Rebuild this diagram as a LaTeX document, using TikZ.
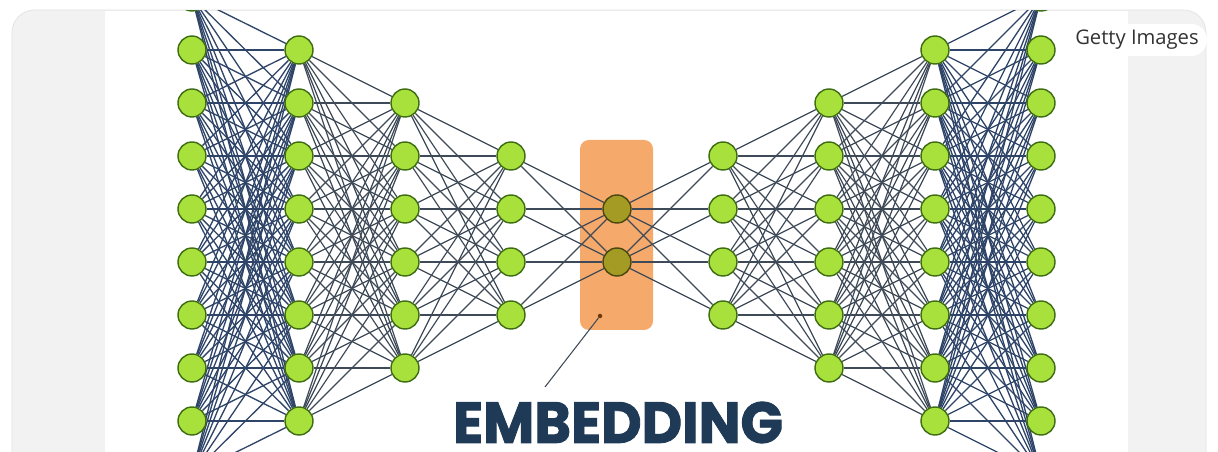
\documentclass[tikz,border=0pt]{standalone}
\usepackage{fontspec}
\setmainfont{Open Sans}
\newfontfamily\headfont[BoldFeatures={FakeBold=1.6}]{Poppins}
\usepackage{tikz}
\usetikzlibrary{calc}
\definecolor{leaf}{HTML}{A8E03C}
\definecolor{leafrim}{HTML}{3E6C12}
\definecolor{embfill}{HTML}{A39B24}
\definecolor{embrim}{HTML}{4A4710}
\definecolor{boxfill}{HTML}{F5A96B}
\definecolor{navy}{HTML}{1F3A56}
\definecolor{panel}{HTML}{F2F2F2}
\definecolor{panelrim}{HTML}{E3E3E3}
\definecolor{wiredense}{HTML}{2E4468}
\definecolor{wirethin}{HTML}{3F4A58}
\tikzstyle{neuron} = [circle, draw=leafrim, line width=0.8pt, fill=leaf, minimum size=0.56cm, inner sep=0pt]
\tikzstyle{embneuron} = [circle, draw=embrim, line width=0.8pt, fill=embfill, minimum size=0.56cm, inner sep=0pt]
\tikzstyle{wireA} = [draw=wiredense, line width=0.75pt]
\tikzstyle{wireB} = [draw=wirethin, line width=0.7pt]
\tikzstyle{pill} = [rectangle, rounded corners=0.32cm, fill=white, minimum height=0.64cm, minimum width=2.8cm, text=black!80, font=\fontsize{11.5}{13}\selectfont]
\pgfdeclarelayer{back}
\pgfdeclarelayer{wires}
\pgfsetlayers{back,wires,main}
\begin{document}
\begin{tikzpicture}[x=0.02cm, y=-0.02cm]

        \useasboundingbox (0,0) rectangle (1218,452);

        \begin{pgfonlayer}{back}
            \fill [white] (0,0) rectangle (1218,452);
            \draw [panelrim, fill=panel, rounded corners=0.45cm] (12,10) rectangle (1206,520);
            \fill [white] (105,11) rectangle (1128,452);
            \fill [boxfill, rounded corners=0.18cm] (580,140) rectangle (653,330);
        \end{pgfonlayer}

        % layers: number / size / x
        \begin{scope}
            \clip (105,11) rectangle (1128,452);
            \foreach \l/\n/\x in {1/10/192, 2/8/299, 3/6/405, 4/4/511, 6/4/723, 7/6/829, 8/8/935, 9/10/1041}
                \foreach \i in {1,...,\n}
                    \node (n\l-\i) [neuron] at (\x, {235.5+(\i-(\n+1)/2)*53}) {};
            \node (n5-1) [embneuron] at (617,209) {};
            \node (n5-2) [embneuron] at (617,262) {};

            \begin{pgfonlayer}{wires}
                \clip (105,11) rectangle (1128,452);
                \foreach \a/\na/\b/\nb/\w in {1/10/2/8/wireA, 2/8/3/6/wireB, 3/6/4/4/wireB, 4/4/5/2/wireB,
                                              5/2/6/4/wireB, 6/4/7/6/wireB, 7/6/8/8/wireB, 8/8/9/10/wireA}
                    \foreach \i in {1,...,\na}
                        \foreach \j in {1,...,\nb}
                            \draw [\w] (n\a-\i) -- (n\b-\j);
            \end{pgfonlayer}
        \end{scope}

        \node (pin) [circle, fill=embrim!80!red, inner sep=0pt, minimum size=0.09cm] at (600,316) {};
        \coordinate (tail) at (545,387);
        \draw [wirethin, line width=0.6pt] (tail) -- (pin);

        \node (emb) [text=navy, inner sep=0pt] at (618,422.5) {\resizebox{6.6cm}{0.82cm}{\headfont\bfseries EMBEDDING}};

        \node (getty) [pill] at (1137,40) {Getty Images};

    \end{tikzpicture}
\end{document}
